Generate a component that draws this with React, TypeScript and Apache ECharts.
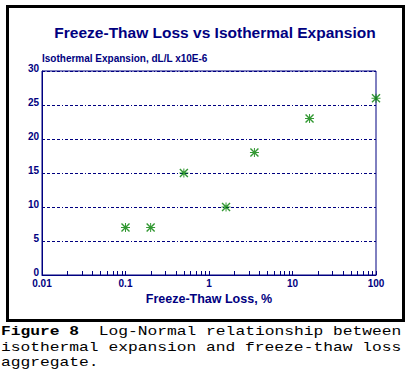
import React, { useEffect, useRef } from "react";
import * as echarts from "echarts";

const freezeThawLoss = [0.1, 0.2, 0.5, 1.6, 3.5, 16, 100];
const isothermalExpansion = [7, 7, 15, 10, 18, 23, 26];
const minorTickValues = [
  0.02, 0.03, 0.04, 0.05, 0.06, 0.07, 0.08, 0.09,
  0.2, 0.3, 0.4, 0.5, 0.6, 0.7, 0.8, 0.9,
  2, 3, 4, 5, 6, 7, 8, 9,
  20, 30, 40, 50, 60, 70, 80, 90,
];
const titleText = "Freeze-Thaw Loss vs Isothermal Expansion";
const xAxisName = "Freeze-Thaw Loss, %";
const yAxisName = "Isothermal Expansion, dL/L x10E-6";
const captionLines = [
  "{b|Figure 8}  Log-Normal relationship between",
  "isothermal expansion and freeze-thaw loss",
  "aggregate.",
];

const NAVY = "#000080";
const GREEN = "#008000";
const SANS = "'Liberation Sans', Arial, sans-serif";
const MONO = "'Liberation Mono', 'Courier New', monospace";

const asterisk =
  "path://M4 0L5 0L5 9L4 9Z M0 4L9 4L9 5L0 5Z M1 0L9 8L8 9L0 1Z M8 0L9 1L1 9L0 8Z";

export default function App() {
  const ref = useRef<HTMLDivElement>(null);
  useEffect(() => {
    if (!ref.current) return;
    const chart = echarts.init(ref.current, null, { renderer: "svg" });
    const captionFontSize = 12.5;
    const captionScale = 9.77 / (captionFontSize * 0.6);
    chart.setOption({
      animation: false,
      backgroundColor: "#ffffff",
      title: {
        text: titleText,
        left: 210,
        textAlign: "center",
        top: 19,
        textStyle: { color: NAVY, fontFamily: SANS, fontWeight: "bold", fontSize: 15.5 },
      },
      grid: {
        left: 42,
        top: 71,
        width: 334,
        height: 204,
        show: true,
        borderColor: NAVY,
        borderWidth: 1,
        backgroundColor: "transparent",
      },
      xAxis: {
        type: "log",
        logBase: 10,
        min: 0.01,
        max: 100,
        name: xAxisName,
        nameLocation: "middle",
        nameGap: 13,
        nameTextStyle: { color: NAVY, fontFamily: SANS, fontWeight: "bold", fontSize: 12.5 },
        axisLine: { lineStyle: { color: NAVY, width: 1 } },
        axisTick: { show: true, inside: true, length: 4, lineStyle: { color: NAVY } },
        axisLabel: {
          color: NAVY,
          fontFamily: SANS,
          fontWeight: "bold",
          fontSize: 10,
          margin: 3,
          formatter: (v: number) => String(+v.toPrecision(6)),
        },
        splitLine: { show: false },
      },
      yAxis: {
        type: "value",
        min: 0,
        max: 30,
        interval: 5,
        name: yAxisName,
        nameLocation: "end",
        nameGap: 9,
        nameTextStyle: {
          color: NAVY,
          fontFamily: SANS,
          fontWeight: "bold",
          fontSize: 10,
          align: "left",
          verticalAlign: "middle",
        },
        axisLine: { show: true, lineStyle: { color: NAVY, width: 1 } },
        axisTick: { show: false },
        axisLabel: {
          color: NAVY,
          fontFamily: SANS,
          fontWeight: "bold",
          fontSize: 10,
          margin: 3,
          verticalAlign: "bottom",
          lineHeight: 6,
        },
        splitLine: {
          show: true,
          lineStyle: { color: NAVY, width: 1, type: [3, 2, 3, 2, 3, 2, 3, 2, 1, 2] },
        },
      },
      graphic: [
        {
          type: "rect",
          shape: { x: 7.5, y: 6.5, width: 396, height: 314 },
          style: { fill: "none", stroke: "#000000", lineWidth: 3 },
          z: 100,
        },
        ...captionLines.map((line, i) => ({
          type: "text",
          x: 1,
          y: 332 + i * 15.5,
          scaleX: captionScale,
          style: {
            text: line,
            fontFamily: MONO,
            fontSize: captionFontSize,
            fill: "#000000",
            verticalAlign: "middle",
            rich: {
              b: { fontFamily: MONO, fontSize: captionFontSize, fontWeight: "bold", fill: "#000000" },
            },
          },
        })),
      ],
      series: [
        {
          type: "custom",
          silent: true,
          clip: false,
          data: minorTickValues.map((v) => [v, 0]),
          renderItem: (_params: any, api: any) => {
            const p = api.coord([api.value(0), 0]);
            const x = Math.round(p[0]) + 0.5;
            return {
              type: "line",
              shape: { x1: x, y1: p[1], x2: x, y2: p[1] - 4 },
              style: { stroke: NAVY, lineWidth: 1 },
            };
          },
        },
        {
          type: "scatter",
          clip: false,
          symbol: asterisk,
          symbolSize: 9,
          itemStyle: { color: GREEN },
          data: freezeThawLoss.map((x, i) => [x, isothermalExpansion[i]]),
        },
      ],
    });
    return () => chart.dispose();
  }, []);
  return (
    <div
      ref={ref}
      style={{ position: "absolute", left: 0, top: 0, width: 414, height: 380, background: "#fff" }}
    />
  );
}
